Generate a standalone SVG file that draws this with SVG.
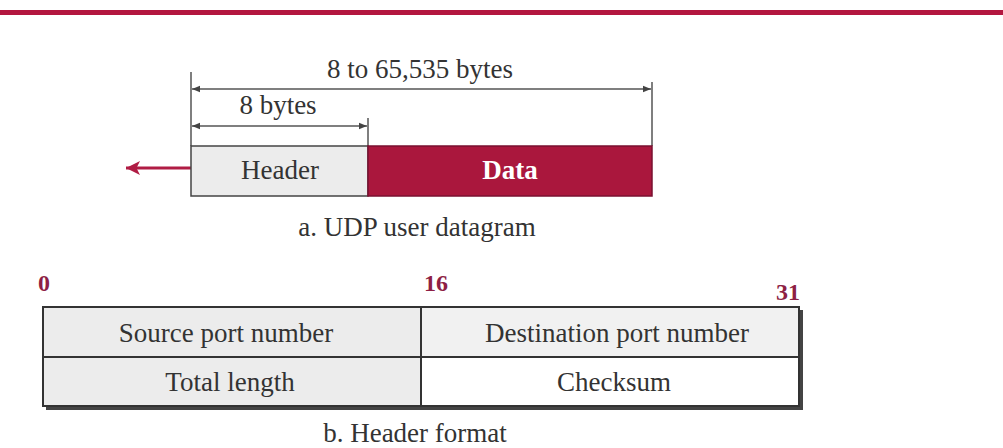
<svg xmlns="http://www.w3.org/2000/svg" width="1003" height="448" viewBox="0 0 1003 448">
<style>
.t{font-family:"Liberation Serif",serif;fill:#333;}
.lbl{font-size:27px;text-anchor:middle;}
.num{font-family:"Liberation Serif",serif;font-weight:bold;font-size:24px;fill:#8e1f45;}
.dim{stroke:#555;stroke-width:1.5;fill:none;}
.cell{stroke:#333;stroke-width:2;}
</style>
<defs>
<marker id="ah" viewBox="0 0 10 10" refX="10" refY="5" markerWidth="11" markerHeight="8" orient="auto-start-reverse" markerUnits="userSpaceOnUse">
<path d="M0,1 L10,5 L0,9 Z" fill="#444"/>
</marker>
<marker id="rh" viewBox="0 0 12 12" refX="12" refY="6" markerWidth="16" markerHeight="14" orient="auto" markerUnits="userSpaceOnUse">
<path d="M0,0 L12,6 L0,12 L3,6 Z" fill="#b01c44"/>
</marker>
</defs>
<rect x="0" y="0" width="1003" height="448" fill="#ffffff"/>
<rect x="0" y="10" width="1003" height="5" fill="#b3163f"/>

<g id="connectors">
<line class="dim" x1="191" y1="72" x2="191" y2="146"/>
<line class="dim" x1="652" y1="82" x2="652" y2="146"/>
<line class="dim" x1="368" y1="118" x2="368" y2="146"/>
<line class="dim" x1="192" y1="89" x2="651" y2="89" marker-start="url(#ah)" marker-end="url(#ah)"/>
<line class="dim" x1="192" y1="126" x2="367" y2="126" marker-start="url(#ah)" marker-end="url(#ah)"/>
<line x1="191" y1="168" x2="126" y2="168" stroke="#b01c44" stroke-width="3" marker-end="url(#rh)"/>
</g>

<g id="dim-total"><text class="t lbl" x="420" y="78">8 to 65,535 bytes</text></g>
<g id="dim-header"><text class="t lbl" x="278" y="114">8 bytes</text></g>

<g id="header-box">
<rect x="191" y="146" width="177" height="50" fill="#ececec" stroke="#444" stroke-width="1.5"/>
<text class="t lbl" x="280" y="179">Header</text>
</g>
<g id="data-box">
<rect x="368" y="146" width="284" height="50" fill="#aa173d" stroke="#7a1030" stroke-width="1.5"/>
<text class="t lbl" x="510" y="179" style="fill:#ffffff;font-weight:bold">Data</text>
</g>
<g id="caption-a"><text class="t lbl" x="417" y="236">a. UDP user datagram</text></g>

<g id="bit-labels">
<text class="num" x="38" y="291">0</text>
<text class="num" x="424" y="291">16</text>
<text class="num" x="800" y="300" text-anchor="end">31</text>
</g>

<g id="header-format">
<rect x="46" y="310" width="757" height="100" fill="#444"/>
<rect x="43" y="307" width="378" height="50" fill="#ececec" class="cell"/>
<rect x="421" y="307" width="378" height="50" fill="#f1f1f1" class="cell"/>
<rect x="43" y="357" width="378" height="49" fill="#ececec" class="cell"/>
<rect x="421" y="357" width="378" height="49" fill="#ffffff" class="cell"/>
</g>
<g id="source-port"><text class="t lbl" x="226" y="342">Source port number</text></g>
<g id="dest-port"><text class="t lbl" x="617" y="342">Destination port number</text></g>
<g id="total-length"><text class="t lbl" x="230" y="391">Total length</text></g>
<g id="checksum"><text class="t lbl" x="614" y="391">Checksum</text></g>
<g id="caption-b"><text class="t lbl" x="415" y="442">b. Header format</text></g>
</svg>
